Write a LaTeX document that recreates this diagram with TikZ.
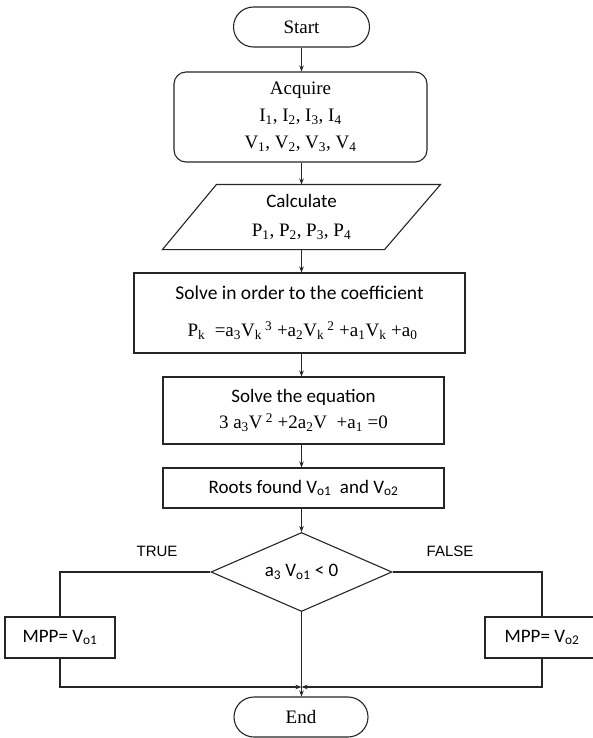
\documentclass[tikz,border=0pt]{standalone}
\usepackage{fontspec}
\setmainfont{Liberation Serif}
\newfontfamily\calfont{Carlito}
\newfontfamily\arifont{Liberation Sans}
\usetikzlibrary{shapes.geometric,arrows.meta}
\newcommand{\sbs}[1]{\textsubscript{#1}}
\newcommand{\sps}[1]{\textsuperscript{#1}}
\begin{document}
\begin{tikzpicture}[x=1pt,y=-1pt,
  box/.style={draw=black!85, line width=1.1pt, inner sep=0pt, align=center,
    font=\fontsize{19}{27}\selectfont},
  calbox/.style={box, font=\calfont\fontsize{19}{23}\selectfont},
  term/.style={box, rounded corners=20pt},
  link/.style={draw=black!85, line width=1.1pt},
  arr/.style={link, -{Stealth[length=6pt,width=4.5pt]}},
  tf/.style={font=\arifont\fontsize{15}{18}\selectfont, inner sep=0pt}
]
\useasboundingbox (0,0) rectangle (592,738);
\fill[white] (0,0) rectangle (592,738);

\node[term, minimum width=136pt, minimum height=40pt] (start) at (301.5,27) {Start};

\node[box, rounded corners=12pt, minimum width=253pt, minimum height=90pt] (acq) at (300.5,117)
  {Acquire\\ I\sbs{1}, I\sbs{2}, I\sbs{3}, I\sbs{4}\\ V\sbs{1}, V\sbs{2}, V\sbs{3}, V\sbs{4}};

\node[box, draw=none, minimum width=277pt, minimum height=64pt] (calc) at (301.5,217)
  {{\calfont Calculate}\\[2pt] P\sbs{1}, P\sbs{2}, P\sbs{3}, P\sbs{4}};
\draw[link] (calc.south west) -- ([xshift=54pt]calc.north west) -- (calc.north east)
  -- ([xshift=-56pt]calc.south east) -- cycle;

\node[box, minimum width=331pt, minimum height=80pt] (coef) at (299.5,313)
  {{\calfont\fontsize{19.5}{23}\selectfont Solve in order to the coefficient}\\[10pt]
   \hspace*{6pt}P\sbs{k}~ =a\sbs{3}V\sbs{k}\,\sps{3} +a\sbs{2}V\sbs{k}\,\sps{2} +a\sbs{1}V\sbs{k} +a\sbs{0}};

\node[box, minimum width=281pt, minimum height=67pt] (eqn) at (303.5,410.5)
  {{\calfont Solve the equation}\\[-1pt] 3 a\sbs{3}V\,\sps{2} +2a\sbs{2}V~ +a\sbs{1} =0};

\node[calbox, minimum width=281pt, minimum height=40pt] (roots) at (303.5,488)
  {Roots found V\sbs{o1}~ and V\sbs{o2}};

\node[draw=black!85, line width=1.1pt, diamond, aspect=2.3, minimum width=181pt,
  minimum height=79pt, inner sep=0pt, font=\calfont\fontsize{19}{23}\selectfont] (dec) at (301.5,572)
  {a\sbs{3} V\sbs{o1} < 0};

\node[tf] (tl) at (157,551) {TRUE};
\node[tf] (fl) at (450,551) {FALSE};

\node[calbox, minimum width=110pt, minimum height=41pt] (mpp1) at (60,637.5) {MPP= V\sbs{o1}};
\node[calbox, minimum width=114pt, minimum height=41pt] (mpp2) at (542,637.5) {MPP= V\sbs{o2}};

\node[term, minimum width=134pt, minimum height=40pt] (end) at (301,717) {End};

\coordinate (j) at (301,687);

\draw[arr] (start.south) -- (start.south |- acq.north);
\draw[arr] (acq.south -| start.south) -- (start.south |- calc.north);
\draw[arr] (calc.south -| start.south) -- (start.south |- coef.north);
\draw[arr] (coef.south -| start.south) -- (start.south |- eqn.north);
\draw[arr] (eqn.south -| start.south) -- (start.south |- roots.north);
\draw[arr] (roots.south -| start.south) -- (dec.north);

\draw[link] (dec.west) -| (mpp1.north);
\draw[link] (dec.east) -| (mpp2.north);
\draw[arr] (mpp1.south) |- (dec.south |- j);
\draw[arr] (mpp2.south) |- (dec.south |- j);
\draw[arr] (dec.south) -- (dec.south |- end.north);
\end{tikzpicture}
\end{document}
